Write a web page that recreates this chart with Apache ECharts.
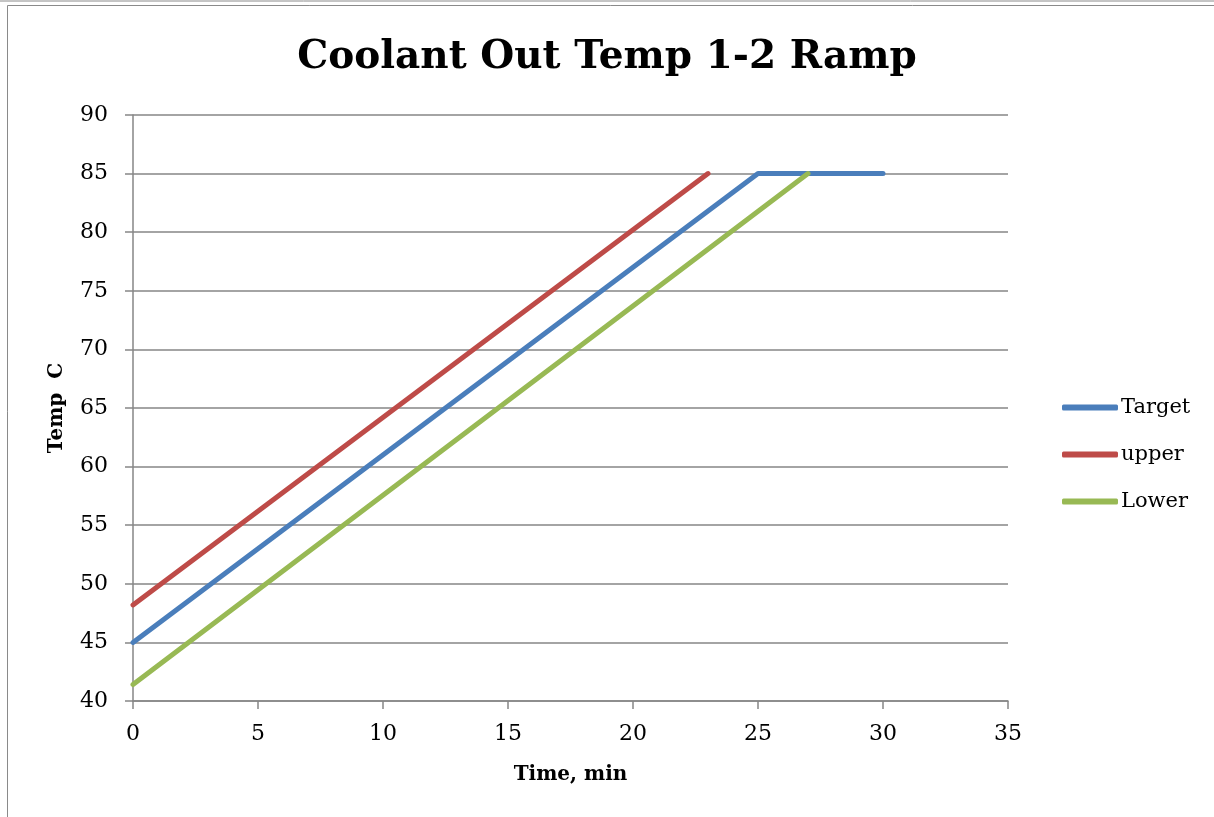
<!DOCTYPE html>
<html lang="en">
<head>
    <meta charset="UTF-8">
    <title>Coolant Out Temp 1-2 Ramp</title>
    <style>
        *{
            margin:0;
            padding:0;
            box-sizing:border-box;
        }
        html, body{
            height:100%;
            width:100%;
            background:#fff;
        }
        #myChart{
            height:817px;
            width:1214px;
        }
    </style>
</head>
<body>
<div id="myChart"></div>
<script src="https://cdn.jsdelivr.net/npm/echarts@6/dist/echarts.min.js"></script>
<script>
    var seriesNames = ['Target', 'upper', 'Lower'];
    var targetX = [0, 25, 30];
    var targetY = [45, 85, 85];
    var upperX = [0, 23];
    var upperY = [48.2, 85];
    var lowerX = [0, 27];
    var lowerY = [41.4, 85];
    var colors = ['#4A7EBB', '#BE4B48', '#98B954'];

    var FONT = '"DejaVu Serif", "Liberation Serif", serif';

    function pairs(xs, ys) {
        var out = [];
        for (var i = 0; i < xs.length; i++) {
            out.push([xs[i], ys[i]]);
        }
        return out;
    }

    var allData = [pairs(targetX, targetY), pairs(upperX, upperY), pairs(lowerX, lowerY)];

    var myChart = echarts.init(document.getElementById('myChart'));
    var option = {
        animation:false,
        color:colors,
        title:{
            text:'Coolant Out Temp 1-2 Ramp',
            left:'center',
            top:33,
            textStyle:{
                fontFamily:FONT,
                fontSize:39,
                fontWeight:'bold',
                color:'#000'
            }
        },
        legend:{
            orient:'vertical',
            left:1062,
            top:397,
            padding:0,
            itemWidth:56,
            itemHeight:6,
            itemGap:26,
            icon:'roundRect',
            data:seriesNames,
            textStyle:{
                fontFamily:FONT,
                fontSize:21,
                color:'#000',
                padding:[0, 0, 0, -2]
            }
        },
        graphic:[
            {
                type:'line',
                shape:{x1:0, y1:1, x2:1214, y2:1},
                style:{stroke:'#8a8a8a', lineWidth:1}
            },
            {
                type:'polyline',
                shape:{points:[[7.5, 817], [7.5, 5.5], [1214, 5.5]]},
                style:{stroke:'#8a8a8a', lineWidth:1, fill:null}
            }
        ],
        grid:{
            left:133,
            top:115,
            right:206,
            bottom:116
        },
        xAxis:{
            type:'value',
            min:0,
            max:35,
            interval:5,
            name:'Time, min',
            nameLocation:'middle',
            nameGap:64,
            nameTextStyle:{
                fontFamily:FONT,
                fontSize:20,
                fontWeight:'bold',
                color:'#000'
            },
            axisLine:{lineStyle:{color:'#868686', width:1.5}},
            axisTick:{show:true, length:8, lineStyle:{color:'#868686', width:1.5}},
            axisLabel:{fontFamily:FONT, fontSize:22, color:'#000', margin:22},
            splitLine:{show:false}
        },
        yAxis:{
            type:'value',
            min:40,
            max:90,
            interval:5,
            name:'Temp  C',
            nameLocation:'middle',
            nameGap:66,
            nameTextStyle:{
                fontFamily:FONT,
                fontSize:20,
                fontWeight:'bold',
                color:'#000'
            },
            axisLine:{show:true, lineStyle:{color:'#868686', width:1.5}},
            axisTick:{show:true, length:8, lineStyle:{color:'#868686', width:1.5}},
            axisLabel:{fontFamily:FONT, fontSize:22, color:'#000', margin:25},
            splitLine:{show:true, lineStyle:{color:'#868686', width:1.5}}
        },
        series:seriesNames.map(function(name, i) {
            return {
                name:name,
                type:'line',
                data:allData[i],
                showSymbol:false,
                symbol:'none',
                lineStyle:{width:5, cap:'round', join:'round'}
            };
        })
    };
    myChart.setOption(option);
</script>
</body>
</html>
